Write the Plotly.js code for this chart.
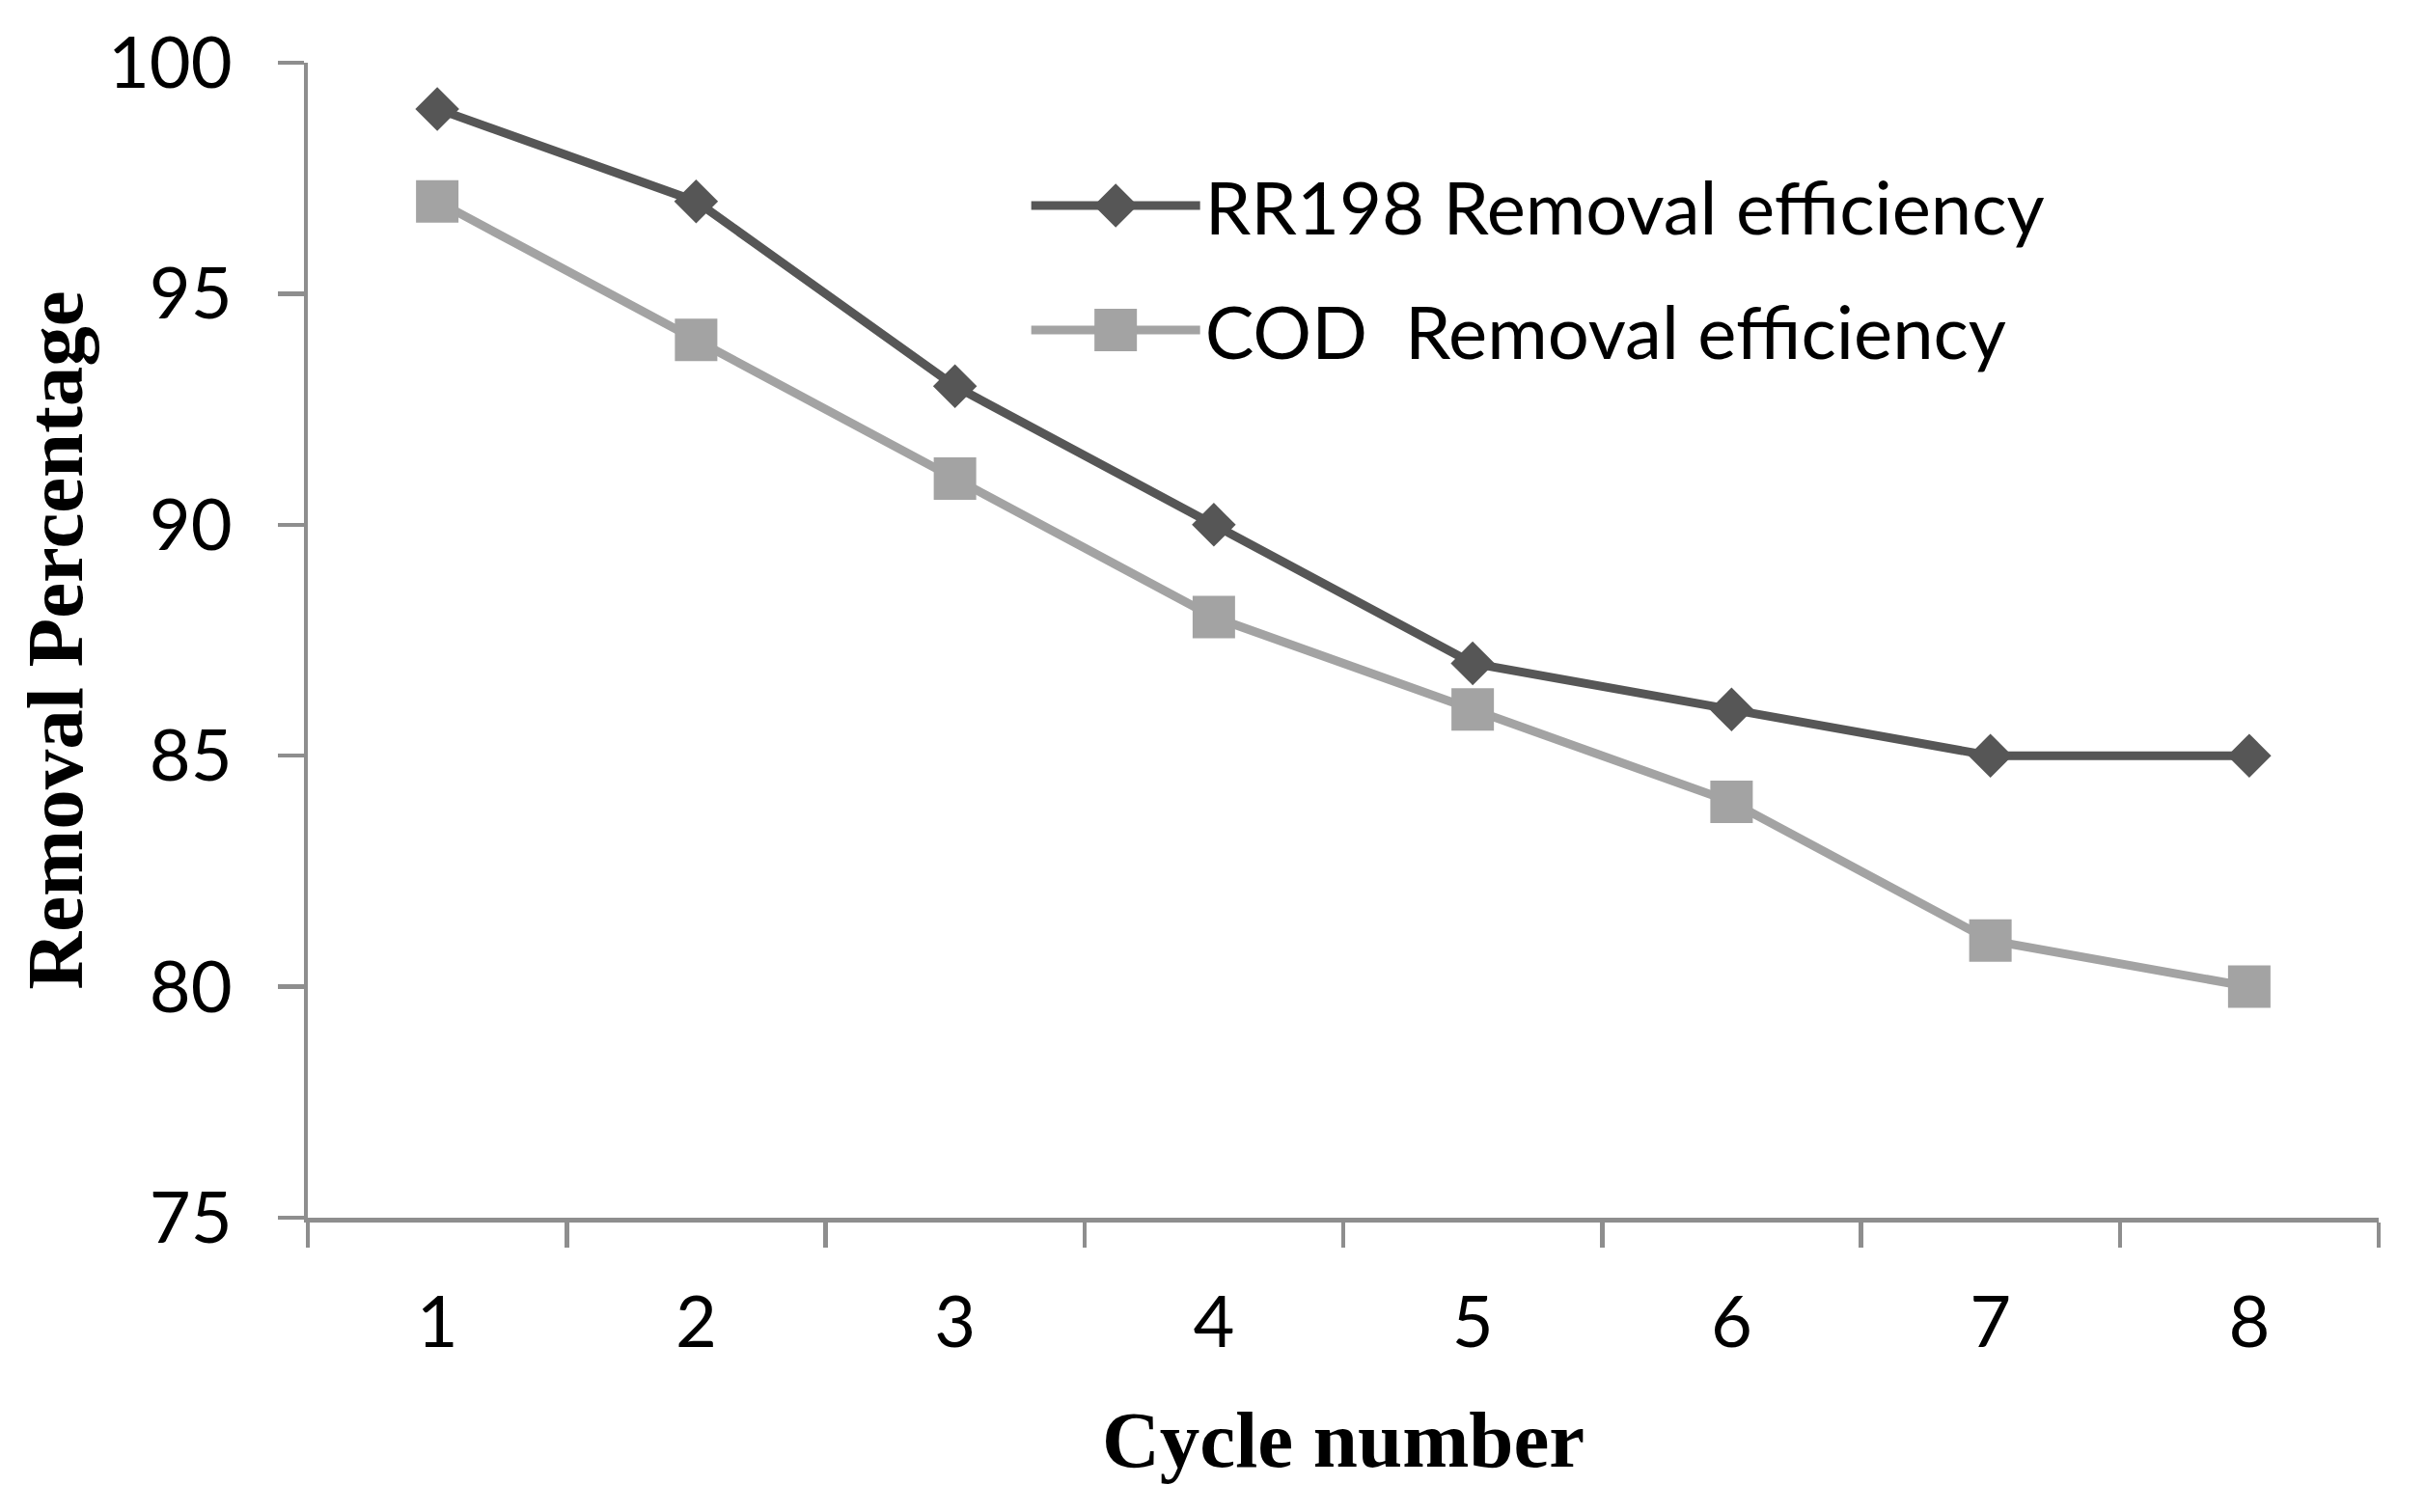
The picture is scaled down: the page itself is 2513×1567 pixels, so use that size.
<!DOCTYPE html>
<html>
<head>
<meta charset="utf-8">
<script src="https://cdn.plot.ly/plotly-3.0.1.min.js"></script>
<style>html,body{margin:0;padding:0;background:#fff;}#chart{width:2513px;height:1567px;}</style>
</head>
<body>
<div id="chart"></div>
<script>
var cycles = ["1", "2", "3", "4", "5", "6", "7", "8"];
var rr198Removal = [99, 97, 93, 90, 87, 86, 85, 85];
var codRemoval = [97, 94, 91, 88, 86, 84, 81, 80];
var seriesNames = ["RR198 Removal efficiency", "COD&nbsp; Removal efficiency"];
var yTicks = [75, 80, 85, 90, 95, 100];

var axisColor = "#8e8e8e";
var tickFont = {family: "Lato, 'Open Sans', sans-serif", size: 74, color: "#000"};
var titleFont = {family: "'Liberation Serif', 'Times New Roman', serif", size: 83, color: "#000", weight: "bold"};

var markerSizes = [35, 44];

var traces = [
  {
    x: cycles, y: rr198Removal, name: seriesNames[0], type: "scatter", mode: "lines+markers",
    line: {color: "#565656", width: 9},
    marker: {symbol: "diamond", size: markerSizes[0], color: "#565656"},
    legend: "legend"
  },
  {
    x: cycles, y: codRemoval, name: seriesNames[1], type: "scatter", mode: "lines+markers",
    line: {color: "#a3a3a3", width: 9},
    marker: {symbol: "square", size: markerSizes[1], color: "#a3a3a3"},
    legend: "legend2"
  }
];

var legendCommon = {
  xanchor: "left", yanchor: "middle", bgcolor: "rgba(0,0,0,0)", borderwidth: 0,
  font: {family: "Lato, 'Open Sans', sans-serif", size: 76, color: "#000"},
  itemwidth: 175, itemsizing: "trace"
};

var layout = {
  width: 2513, height: 1567,
  paper_bgcolor: "#fff", plot_bgcolor: "#fff",
  margin: {l: 319, r: 48, t: 65, b: 305, pad: 0},
  showlegend: true,
  legend: Object.assign({}, legendCommon, {x: 0.347, y: (1262 - 213) / 1197}),
  legend2: Object.assign({}, legendCommon, {x: 0.347, y: (1262 - 342) / 1197}),
  xaxis: {
    type: "category", range: [-0.5, 7.5], tickson: "boundaries",
    showline: true, linecolor: axisColor, linewidth: 4.5,
    ticks: "outside", ticklen: 26, tickwidth: 4.5, tickcolor: axisColor,
    tickfont: tickFont, showgrid: false, zeroline: false,
    ticklabelstandoff: 41,
    title: {text: "Cycle number", font: titleFont, standoff: 52},
    automargin: false
  },
  yaxis: {
    range: [75, 100], tickvals: yTicks, ticktext: yTicks.map(String),
    showline: true, linecolor: axisColor, linewidth: 4.5,
    ticks: "outside", ticklen: 27, tickwidth: 4.5, tickcolor: axisColor,
    tickfont: tickFont, showgrid: false, zeroline: false,
    ticklabelstandoff: 32,
    title: {text: "Removal Percentage", font: titleFont, standoff: 0},
    automargin: false
  }
};

Plotly.newPlot("chart", traces, layout, {displayModeBar: false, staticPlot: true}).then(function (gd) {
  // Plotly caps legend marker size at 16px; enlarge legend symbols to match the plotted markers.
  ["g.legend", "g.legend2"].forEach(function (sel, i) {
    gd.querySelectorAll(sel + " .legendpoints path.scatterpts").forEach(function (p) {
      var t = p.getAttribute("transform") || "";
      p.setAttribute("transform", t + " scale(" + (markerSizes[i] / 16) + ")");
    });
  });
});
</script>
</body>
</html>
